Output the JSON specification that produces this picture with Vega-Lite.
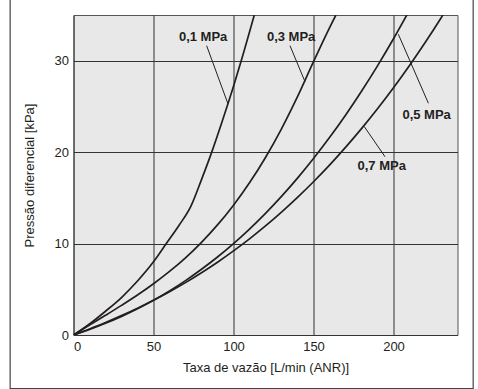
{
  "$schema": "https://vega.github.io/schema/vega-lite/v6.json",
  "autosize": "none",
  "width": 384,
  "height": 320,
  "padding": {"left": 73.5, "top": 15, "right": 20.5, "bottom": 54},
  "background": "#ffffff",
  "config": {
    "font": "Liberation Sans",
    "view": {"fill": "#e8e8e8", "stroke": "#555555", "strokeWidth": 1},
    "axis": {
      "grid": true,
      "gridColor": "#333333",
      "gridOpacity": 1,
      "gridWidth": 1,
      "ticks": false,
      "domain": false,
      "labelFont": "Liberation Sans",
      "labelFontSize": 13,
      "labelColor": "#231f20",
      "titleFont": "Liberation Sans",
      "titleFontSize": 13,
      "titleFontWeight": "normal",
      "titleColor": "#231f20"
    }
  },
  "datasets": {
    "curves": [
      {"p": "0.1", "q": 0, "dp": 0},
      {"p": "0.1", "q": 10, "dp": 1.2},
      {"p": "0.1", "q": 20, "dp": 2.6},
      {"p": "0.1", "q": 30, "dp": 4.1},
      {"p": "0.1", "q": 40, "dp": 5.9},
      {"p": "0.1", "q": 50, "dp": 8.0},
      {"p": "0.1", "q": 58, "dp": 10.0},
      {"p": "0.1", "q": 66, "dp": 12.0},
      {"p": "0.1", "q": 73.4, "dp": 14.1},
      {"p": "0.1", "q": 80, "dp": 17.0},
      {"p": "0.1", "q": 86.4, "dp": 20.0},
      {"p": "0.1", "q": 93, "dp": 23.4},
      {"p": "0.1", "q": 100, "dp": 27.2},
      {"p": "0.1", "q": 104.5, "dp": 29.8},
      {"p": "0.1", "q": 113, "dp": 35},
      {"p": "0.3", "q": 0, "dp": 0},
      {"p": "0.3", "q": 10, "dp": 1.08},
      {"p": "0.3", "q": 20, "dp": 2.15},
      {"p": "0.3", "q": 30, "dp": 3.24},
      {"p": "0.3", "q": 40, "dp": 4.37},
      {"p": "0.3", "q": 50, "dp": 5.6},
      {"p": "0.3", "q": 60, "dp": 6.95},
      {"p": "0.3", "q": 70, "dp": 8.44},
      {"p": "0.3", "q": 80, "dp": 10.13},
      {"p": "0.3", "q": 90, "dp": 12.04},
      {"p": "0.3", "q": 100, "dp": 14.2},
      {"p": "0.3", "q": 110, "dp": 16.65},
      {"p": "0.3", "q": 120, "dp": 19.42},
      {"p": "0.3", "q": 130, "dp": 22.55},
      {"p": "0.3", "q": 140, "dp": 26.06},
      {"p": "0.3", "q": 150, "dp": 29.9},
      {"p": "0.3", "q": 160, "dp": 33.6},
      {"p": "0.3", "q": 164, "dp": 35},
      {"p": "0.5", "q": 0, "dp": 0},
      {"p": "0.5", "q": 10, "dp": 0.6},
      {"p": "0.5", "q": 20, "dp": 1.28},
      {"p": "0.5", "q": 30, "dp": 2.03},
      {"p": "0.5", "q": 40, "dp": 2.87},
      {"p": "0.5", "q": 50, "dp": 3.8},
      {"p": "0.5", "q": 60, "dp": 4.82},
      {"p": "0.5", "q": 70, "dp": 5.95},
      {"p": "0.5", "q": 80, "dp": 7.19},
      {"p": "0.5", "q": 90, "dp": 8.53},
      {"p": "0.5", "q": 100, "dp": 10.0},
      {"p": "0.5", "q": 110, "dp": 11.59},
      {"p": "0.5", "q": 120, "dp": 13.31},
      {"p": "0.5", "q": 130, "dp": 15.16},
      {"p": "0.5", "q": 140, "dp": 17.16},
      {"p": "0.5", "q": 150, "dp": 19.3},
      {"p": "0.5", "q": 160, "dp": 21.59},
      {"p": "0.5", "q": 170, "dp": 24.04},
      {"p": "0.5", "q": 180, "dp": 26.66},
      {"p": "0.5", "q": 190, "dp": 29.44},
      {"p": "0.5", "q": 200, "dp": 32.4},
      {"p": "0.5", "q": 210, "dp": 35.53},
      {"p": "0.7", "q": 0, "dp": 0},
      {"p": "0.7", "q": 10, "dp": 0.66},
      {"p": "0.7", "q": 20, "dp": 1.36},
      {"p": "0.7", "q": 30, "dp": 2.12},
      {"p": "0.7", "q": 40, "dp": 2.93},
      {"p": "0.7", "q": 50, "dp": 3.8},
      {"p": "0.7", "q": 60, "dp": 4.73},
      {"p": "0.7", "q": 70, "dp": 5.73},
      {"p": "0.7", "q": 80, "dp": 6.81},
      {"p": "0.7", "q": 90, "dp": 7.96},
      {"p": "0.7", "q": 100, "dp": 9.2},
      {"p": "0.7", "q": 110, "dp": 10.52},
      {"p": "0.7", "q": 120, "dp": 11.93},
      {"p": "0.7", "q": 130, "dp": 13.44},
      {"p": "0.7", "q": 140, "dp": 15.05},
      {"p": "0.7", "q": 150, "dp": 16.76},
      {"p": "0.7", "q": 160, "dp": 18.58},
      {"p": "0.7", "q": 170, "dp": 20.52},
      {"p": "0.7", "q": 180, "dp": 22.57},
      {"p": "0.7", "q": 190, "dp": 24.74},
      {"p": "0.7", "q": 200, "dp": 27.04},
      {"p": "0.7", "q": 210, "dp": 29.48},
      {"p": "0.7", "q": 220, "dp": 32.05},
      {"p": "0.7", "q": 230, "dp": 34.76},
      {"p": "0.7", "q": 240, "dp": 37.6}
    ],
    "labels": [
      {"label": "0,1 MPa", "lx": 81, "ly": 32.6, "ax": 83.2, "ay": 31.65, "bx": 96.4, "by": 25.35},
      {"label": "0,3 MPa", "lx": 136, "ly": 32.6, "ax": 135.3, "ay": 31.65, "bx": 144.7, "by": 27.7},
      {"label": "0,5 MPa", "lx": 220.7, "ly": 24.1, "ax": 221.8, "ay": 25.35, "bx": 203, "by": 32.9},
      {"label": "0,7 MPa", "lx": 192.6, "ly": 18.5, "ax": 194.7, "ay": 19.5, "bx": 181.7, "by": 22.8}
    ],
    "frame": [{"name": "frame"}]
  },
  "layer": [
    {
      "data": {"name": "frame"},
      "mark": {"type": "rect", "filled": false, "stroke": "#444444", "strokeWidth": 1.2, "clip": false},
      "encoding": {
        "x": {"datum": -39.6, "type": "quantitative", "scale": {"domain": [0, 240], "nice": false, "zero": false}},
        "x2": {"datum": 249.8},
        "y": {"datum": -5.85, "type": "quantitative", "scale": {"domain": [0, 35], "nice": false, "zero": false}},
        "y2": {"datum": 37.5}
      }
    },
    {
      "data": {"name": "curves"},
      "mark": {"type": "line", "interpolate": "monotone", "color": "#231f20", "strokeWidth": 1.7, "clip": true},
      "encoding": {
        "x": {
          "field": "q", "type": "quantitative",
          "scale": {"domain": [0, 240], "nice": false, "zero": false},
          "axis": {"values": [0, 50, 100, 150, 200], "title": "Taxa de vazão [L/min (ANR)]", "labelPadding": 5, "titlePadding": 8, "labelBaseline": "top"}
        },
        "y": {
          "field": "dp", "type": "quantitative",
          "scale": {"domain": [0, 35], "nice": false, "zero": false},
          "axis": {"values": [0, 10, 20, 30], "title": "Pressão diferencial [kPa]", "labelPadding": 5, "titlePadding": 18}
        },
        "detail": {"field": "p"}
      }
    },
    {
      "data": {"name": "labels"},
      "mark": {"type": "rule", "color": "#231f20", "strokeWidth": 1},
      "encoding": {
        "x": {"field": "ax", "type": "quantitative"},
        "y": {"field": "ay", "type": "quantitative"},
        "x2": {"field": "bx"},
        "y2": {"field": "by"}
      }
    },
    {
      "data": {"name": "labels"},
      "mark": {"type": "text", "font": "Liberation Sans", "fontWeight": "bold", "fontSize": 13, "color": "#231f20", "align": "center", "baseline": "middle"},
      "encoding": {
        "x": {"field": "lx", "type": "quantitative"},
        "y": {"field": "ly", "type": "quantitative"},
        "text": {"field": "label"}
      }
    }
  ]
}
